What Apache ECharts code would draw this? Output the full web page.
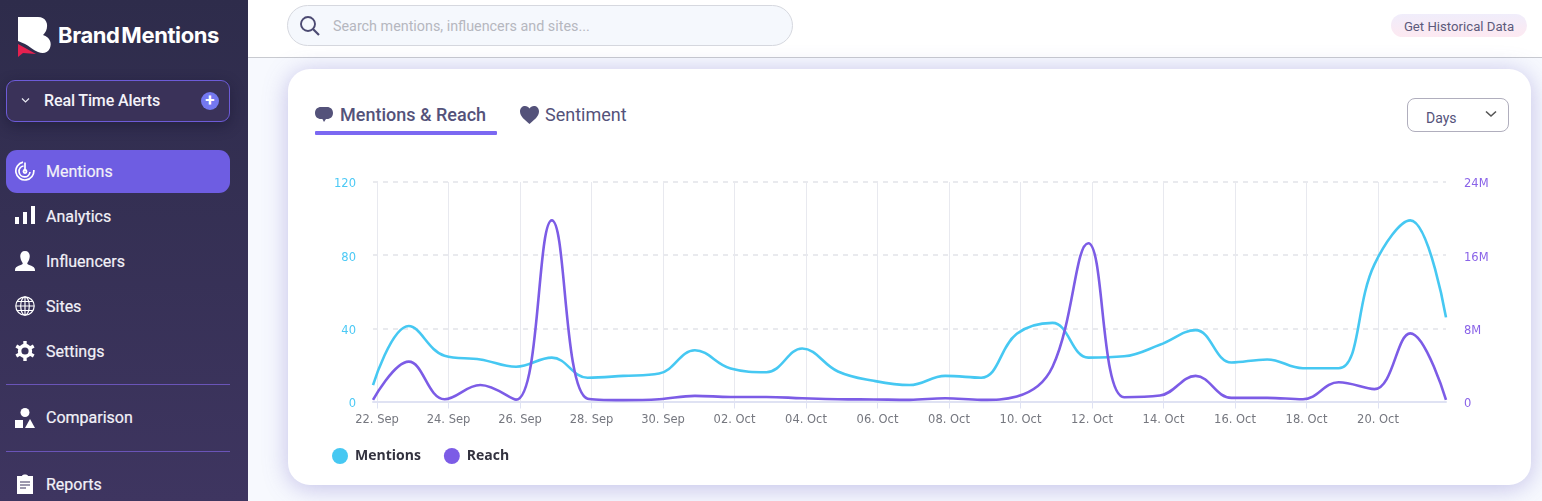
<!DOCTYPE html>
<html><head><meta charset="utf-8">
<script src="https://cdn.jsdelivr.net/npm/echarts@6/dist/echarts.min.js"></script>
<style>
*{box-sizing:border-box;margin:0;padding:0}
html,body{width:1542px;height:501px;overflow:hidden;background:#f7f9fe;font-family:Roboto,sans-serif}
.abs{position:absolute}
#side{left:0;top:0;width:248px;height:501px;background:linear-gradient(180deg,#2e2c4b 0%,#3e3560 100%)}
.nav{position:absolute;left:46px;color:#f2f1f8;font-size:16px;line-height:20px;-webkit-text-stroke:.2px #f2f1f8}
.ic{position:absolute;left:15px;width:20px;height:20px}
.rule{position:absolute;left:6px;width:224px;height:1px;background:#6a54b8}
#head{left:248px;top:0;width:1294px;height:58px;background:#fff;border-bottom:1.5px solid #c8cad0}
#card{left:288px;top:69px;width:1243px;height:416px;background:#fff;border-radius:22px;box-shadow:0 3px 24px rgba(100,90,190,.36)}
#chart{left:0;top:0;width:1542px;height:501px}
</style></head><body>
<div class="abs" id="side">
 <svg class="abs" style="left:17px;top:16px" width="36" height="42" viewBox="0 0 36 42">
  <path d="M1 1H21C29 1 32 8 29 15C27 18 26 19 26 19C33 21 35 27 33 32C31 37 26 38 21 36C16 34 12 30 8 28L1 25Z" fill="#fff"/>
  <path d="M1 28L19 38L6 37L1 41Z" fill="#e6204f"/>
 </svg>
 <div class="abs" style="left:58px;top:22px;color:#fff;font:700 22px/26px Inter,sans-serif;letter-spacing:-.4px;word-spacing:-3px">Brand Mentions</div>
 <div class="abs" style="left:6px;top:80px;width:224px;height:42px;border:1px solid #6d5bd8;border-radius:9px;background:#3a3259;box-shadow:0 4px 14px rgba(20,18,45,.45)"></div>
 <svg class="abs" style="left:21px;top:97px" width="9" height="7" viewBox="0 0 9 7"><path d="M1 1.5L4.5 5L8 1.5" fill="none" stroke="#e8e8f2" stroke-width="1.2"/></svg>
 <div class="abs" style="left:44px;top:91px;color:#f4f3fa;font:500 16px/20px Roboto,sans-serif;letter-spacing:-.13px">Real Time Alerts</div>
 <div class="abs" style="left:201px;top:92px;width:18px;height:18px;border-radius:50%;background:#7478f0;color:#fff;font:700 17px/17px Roboto,sans-serif;text-align:center">+</div>
 <div class="abs" style="left:6px;top:150px;width:224px;height:43px;border-radius:11px;background:#6e5de2"></div>
 <svg class="ic" style="top:161px" viewBox="0 0 20 20"><g fill="none" stroke="#fff" stroke-width="1.7"><path d="M8 1.2A9 9 0 1 0 18.8 9"/><path d="M8.5 5A5.5 5.5 0 1 0 15 11"/><path d="M10 1.5V10.5"/><circle cx="10" cy="10.5" r="1.6"/></g></svg>
 <div class="nav" style="top:162px">Mentions</div>
 <svg class="ic" style="top:206px" viewBox="0 0 20 20"><path fill="#fff" d="M0 12H4V19H0ZM8 7H12V19H8ZM16 1H20V19H16Z" transform="translate(0,-1)"/></svg>
 <div class="nav" style="top:207px">Analytics</div>
 <svg class="ic" style="top:251px" viewBox="0 0 20 20"><path fill="#fff" d="M10 0C13.5 0 15 2.5 14.7 6C14.4 9.5 12.7 11 12.2 12.5C12.8 14.5 20 14.5 20 19V20H0V19C0 14.5 7.2 14.5 7.8 12.5C7.3 11 5.6 9.5 5.3 6C5 2.5 6.5 0 10 0Z"/></svg>
 <div class="nav" style="top:252px">Influencers</div>
 <svg class="ic" style="top:296px" viewBox="0 0 20 20"><g fill="none" stroke="#fff" stroke-width="1.2"><circle cx="10" cy="10" r="9.2"/><ellipse cx="10" cy="10" rx="4.3" ry="9.2"/><path d="M10 1V19M1 10H19M2 5.5H18M2 14.5H18"/></g></svg>
 <div class="nav" style="top:297px">Sites</div>
 <svg class="ic" style="top:341px" viewBox="0 0 20 20"><circle cx="10" cy="10" r="5.4" fill="none" stroke="#fff" stroke-width="3.6"/><g stroke="#fff" stroke-width="3.4"><path d="M10 0V4M10 16V20M1.3 5L4.8 7M15.2 13L18.7 15M1.3 15L4.8 13M15.2 7L18.7 5"/></g></svg>
 <div class="nav" style="top:342px">Settings</div>
 <div class="rule" style="top:384px"></div>
 <svg class="ic" style="top:408px" viewBox="0 0 20 20"><circle cx="10" cy="4.5" r="4.5" fill="#fff"/><rect x="0" y="12" width="8" height="8" fill="#fff"/><path fill="#fff" d="M15 11L20 20H10Z"/></svg>
 <div class="nav" style="top:408px">Comparison</div>
 <div class="rule" style="top:451px"></div>
 <svg class="ic" style="top:474px" viewBox="0 0 20 20"><path fill="#fff" d="M2 2H7C7 0 13 0 13 2H18V20H2Z"/><path stroke="#3d345f" stroke-width="1.2" d="M5 8H15M5 11H15M5 14H11"/></svg>
 <div class="nav" style="top:475px">Reports</div>
</div>
<div class="abs" id="head"></div>
<div class="abs" style="left:287px;top:5px;width:506px;height:41px;border:1px solid #d6d8df;border-radius:21px;background:#f5f8fd"></div>
<svg class="abs" style="left:299px;top:15px" width="22" height="22" viewBox="0 0 22 22"><circle cx="9" cy="9" r="7" fill="none" stroke="#4c4a72" stroke-width="1.9"/><path d="M14 14L20 20" stroke="#4c4a72" stroke-width="2.2"/></svg>
<div class="abs" style="left:333px;top:16px;color:#b5b7bf;font:400 14.33px/20px Roboto,sans-serif">Search mentions, influencers and sites...</div>
<div class="abs" style="left:1391px;top:14px;width:136px;height:23px;border-radius:12px;background:linear-gradient(180deg,#f0edfb,#fde9f1);color:#5c5a7c;font:400 13.2px/25px Roboto,sans-serif;text-align:center">Get Historical Data</div>
<div class="abs" id="card"></div>
<svg class="abs" style="left:315px;top:106px" width="18" height="18" viewBox="0 0 18 18"><path fill="#54527a" d="M6 1H12C15.5 1 18 3.2 18 7C18 10.8 15.5 13 12 13H11L9 16L7.4 13H6C2.5 13 0 10.8 0 7C0 3.2 2.5 1 6 1Z"/></svg>
<div class="abs" style="left:340px;top:104px;color:#54527a;font:500 18px/22px Roboto,sans-serif">Mentions &amp; Reach</div>
<div class="abs" style="left:315px;top:131px;width:182px;height:4px;border-radius:1px;background:#7b68f2"></div>
<svg class="abs" style="left:520px;top:106px" width="19" height="18" viewBox="0 0 19 18"><path fill="#54527a" d="M9.5 18C5 14 0 10.5 0 5.5C0 2 2.4 0 5 0C7 0 8.6 1 9.5 2.6C10.4 1 12 0 14 0C16.6 0 19 2 19 5.5C19 10.5 14 14 9.5 18Z"/></svg>
<div class="abs" style="left:545px;top:104px;color:#54527a;font:400 18px/22px Roboto,sans-serif">Sentiment</div>
<div class="abs" style="left:1407px;top:98px;width:102px;height:34px;border:1px solid #b0aebd;border-radius:8px;background:#fff"></div>
<div class="abs" style="left:1426px;top:109px;color:#54527a;font:400 14px/18px Roboto,sans-serif">Days</div>
<svg class="abs" style="left:1485px;top:110px" width="12" height="8" viewBox="0 0 12 8"><path d="M1 1.5L6 6L11 1.5" fill="none" stroke="#555" stroke-width="1.6"/></svg>
<div class="abs" id="chart"></div>
<script>
const dayLabels = ["22. Sep","23. Sep","24. Sep","25. Sep","26. Sep","27. Sep","28. Sep","29. Sep","30. Sep","01. Oct","02. Oct","03. Oct","04. Oct","05. Oct","06. Oct","07. Oct","08. Oct","09. Oct","10. Oct","11. Oct","12. Oct","13. Oct","14. Oct","15. Oct","16. Oct","17. Oct","18. Oct","19. Oct","20. Oct","21. Oct","22. Oct"];
const mentions = [9,41.3,25,23,19,24,13,14,15.3,28,18,16,29,16.4,11.3,9,14,13,37,43,24,24.7,31,39,21.3,23,18.2,18.2,75,99,46];
const reach = [0.18,4.36,0.25,1.8,0.2,19.8,0.3,0.15,0.25,0.62,0.5,0.5,0.36,0.25,0.22,0.18,0.36,0.18,0.55,3.8,17.3,0.47,0.65,2.8,0.4,0.4,0.25,2.1,1.35,7.45,0.18];
const tickLabels = dayLabels.slice(0,29);
const seriesNames = ["Mentions","Reach"];
const colors = ["#46c8f2","#7c5ce6"];

const chart = echarts.init(document.getElementById('chart'), null, {renderer:'canvas'});
const lbl = (c)=>({color:c,fontFamily:'"DejaVu Sans"',fontSize:11.5});
chart.setOption({
  animation:false,
  legend:{left:332,top:448,padding:0,itemWidth:16,itemHeight:16,itemGap:23,icon:'circle',
    data:seriesNames,
    textStyle:{color:'#33323f',fontWeight:700,fontSize:14,fontFamily:'"Open Sans"',padding:[0,0,0,2]}},
  grid:[
    {left:373,top:182,width:1073,height:219.5},
    {left:377,top:182,width:1001,height:219.5}
  ],
  xAxis:[
    {type:'category',gridIndex:0,boundaryGap:false,data:dayLabels,
     axisLine:{lineStyle:{color:'#dfe2f3',width:2}},axisTick:{show:false},axisLabel:{show:false},splitLine:{show:false}},
    {type:'category',gridIndex:1,boundaryGap:false,data:tickLabels,
     axisLine:{show:false},
     axisTick:{show:true,length:7,interval:1,lineStyle:{color:'#dfe2f3',width:1}},
     splitLine:{show:true,interval:1,lineStyle:{color:'#e8e9ef',width:1}},
     axisLabel:{interval:1,margin:13,...lbl('#75777f'),showMaxLabel:true}}
  ],
  yAxis:[
    {type:'value',gridIndex:0,min:0,max:120,interval:40,
     axisLine:{show:false},axisTick:{show:false},
     splitLine:{lineStyle:{color:'#e9eaee',width:2,type:[5,5]}},
     axisLabel:{margin:17,lineHeight:5,verticalAlign:'top',...lbl('#4cc9f5')}},
    {type:'value',gridIndex:0,position:'right',min:0,max:24,interval:8,
     axisLine:{show:false},axisTick:{show:false},splitLine:{show:false},
     axisLabel:{margin:18,lineHeight:5,verticalAlign:'top',...lbl('#8a63e8'),formatter:v=>v===0?'0':v+'M'}},
    {type:'value',gridIndex:1,show:false,min:0,max:120}
  ],
  series:[
    {name:seriesNames[0],type:'line',xAxisIndex:0,yAxisIndex:0,data:mentions,smooth:0.4,
     showSymbol:false,z:3,lineStyle:{color:colors[0],width:2.6},itemStyle:{color:colors[0]}},
    {name:seriesNames[1],type:'line',xAxisIndex:0,yAxisIndex:1,data:reach,smooth:0.4,
     showSymbol:false,z:4,lineStyle:{color:colors[1],width:2.6},itemStyle:{color:colors[1]}}
  ]
});
</script>
</body></html>
